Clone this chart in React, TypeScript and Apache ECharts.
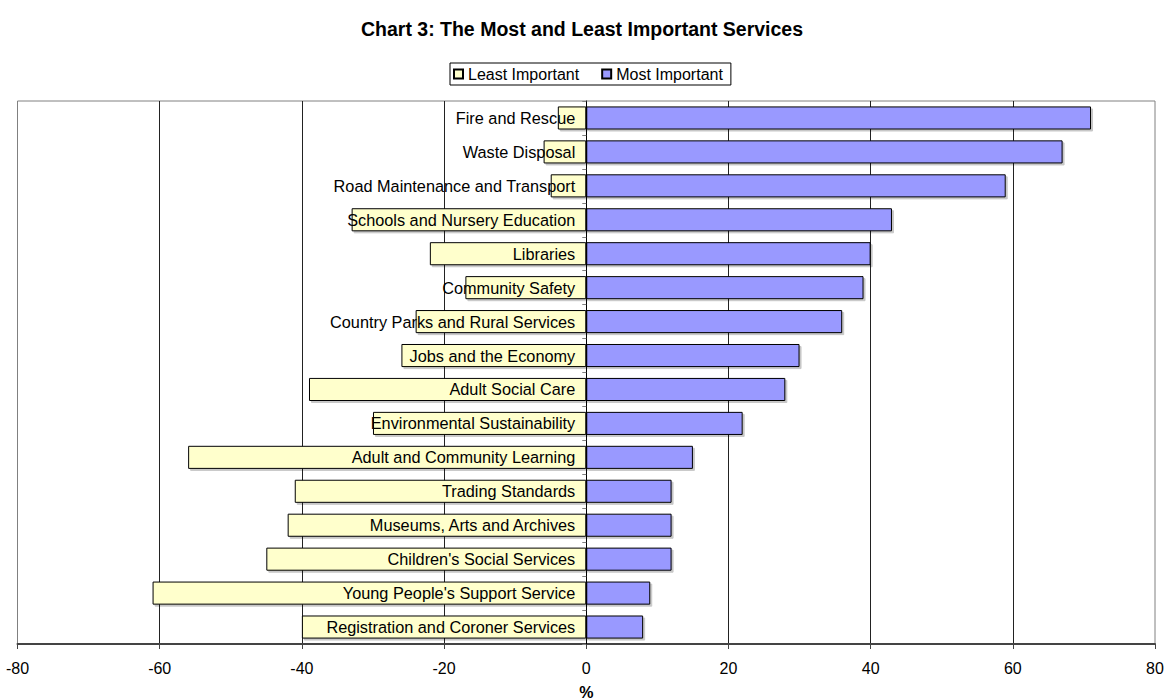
import React, { useEffect, useRef } from "react";
import * as echarts from "echarts";

const services = [
  "Fire and Rescue",
  "Waste Disposal",
  "Road Maintenance and Transport",
  "Schools and Nursery Education",
  "Libraries",
  "Community Safety",
  "Country Parks and Rural Services",
  "Jobs and the Economy",
  "Adult Social Care",
  "Environmental Sustainability",
  "Adult and Community Learning",
  "Trading Standards",
  "Museums, Arts and Archives",
  "Children's Social Services",
  "Young People's Support Service",
  "Registration and Coroner Services",
];

// Share of respondents naming each service as least important (plotted to the left)
const leastImportant = [4, 6, 5, 33, 22, 17, 24, 26, 39, 30, 56, 41, 42, 45, 61, 40];
// Share of respondents naming each service as most important
const mostImportant = [71, 67, 59, 43, 40, 39, 36, 30, 28, 22, 15, 12, 12, 12, 9, 8];

const FONT = "'Liberation Sans', Arial, sans-serif";

const GRID_LEFT = 17.5;
const GRID_RIGHT = 9;
const CHART_W = 1164;

export default function App() {
  const ref = useRef<HTMLDivElement>(null);

  useEffect(() => {
    if (!ref.current) return;
    const chart = echarts.init(ref.current, undefined, { renderer: "svg" });

    // the category axis sits on the zero line, halfway across the symmetric value range
    const zeroOffset = (CHART_W - GRID_LEFT - GRID_RIGHT) / 2;

    const barShadow = {
      shadowColor: "rgba(0,0,0,0.22)",
      shadowOffsetX: 2,
      shadowOffsetY: 2,
      shadowBlur: 0,
    };

    chart.setOption({
      animation: false,
      backgroundColor: "#ffffff",
      textStyle: { fontFamily: FONT },
      title: {
        text: "Chart 3: The Most and Least Important Services",
        left: "center",
        top: 19,
        padding: 0,
        textStyle: { fontFamily: FONT, fontSize: 19.5, fontWeight: "bold", color: "#000" },
      },
      legend: {
        left: 450,
        top: 63,
        padding: [3, 8, 3, 3],
        itemWidth: 9,
        itemHeight: 9,
        itemGap: 22,
        icon: "rect",
        borderColor: "#000",
        borderWidth: 1,
        textStyle: { fontFamily: FONT, fontSize: 16, color: "#000" },
        itemStyle: { shadowColor: "transparent", shadowOffsetX: 0, shadowOffsetY: 0 },
        data: ["Least Important", "Most Important"],
      },
      grid: {
        left: GRID_LEFT,
        right: GRID_RIGHT,
        top: 101,
        bottom: 56,
        show: true,
        borderColor: "#808080",
        borderWidth: 1,
        containLabel: false,
        outerBoundsMode: "none",
      },
      xAxis: {
        type: "value",
        min: -80,
        max: 80,
        interval: 20,
        name: "%",
        nameLocation: "middle",
        nameGap: 40,
        nameTextStyle: { fontFamily: FONT, fontSize: 16, fontWeight: "bold", color: "#000" },
        axisLine: { show: true, lineStyle: { color: "#444", width: 2 } },
        axisTick: { show: true, length: 5, lineStyle: { color: "#444", width: 1 } },
        axisLabel: { fontFamily: FONT, fontSize: 16, color: "#000", margin: 16 },
        splitLine: {
          show: true,
          showMinLine: false,
          showMaxLine: false,
          lineStyle: { color: "#222", width: 1 },
        },
      },
      yAxis: {
        type: "category",
        data: services,
        inverse: true,
        position: "left",
        offset: -zeroOffset,
        z: 5,
        axisLine: { show: true, onZero: false, lineStyle: { color: "#000", width: 1 } },
        axisTick: { show: true, length: 4, inside: false, lineStyle: { color: "#808080" } },
        axisLabel: {
          fontFamily: FONT,
          fontSize: 16.3,
          color: "#000",
          margin: 11,
          interval: 0,
        },
        splitLine: { show: false },
      },
      series: [
        {
          name: "Least Important",
          type: "bar",
          stack: "share",
          barWidth: "68%",
          data: leastImportant.map((v) => -v),
          itemStyle: { color: "#FFFFCC", borderColor: "#000", borderWidth: 1, ...barShadow },
        },
        {
          name: "Most Important",
          type: "bar",
          stack: "share",
          barWidth: "68%",
          data: mostImportant,
          itemStyle: { color: "#9999FF", borderColor: "#000", borderWidth: 1, ...barShadow },
        },
      ],
    });

    return () => chart.dispose();
  }, []);

  return (
    <div
      ref={ref}
      style={{ position: "absolute", left: 0, top: 0, width: CHART_W, height: 700 }}
    />
  );
}
